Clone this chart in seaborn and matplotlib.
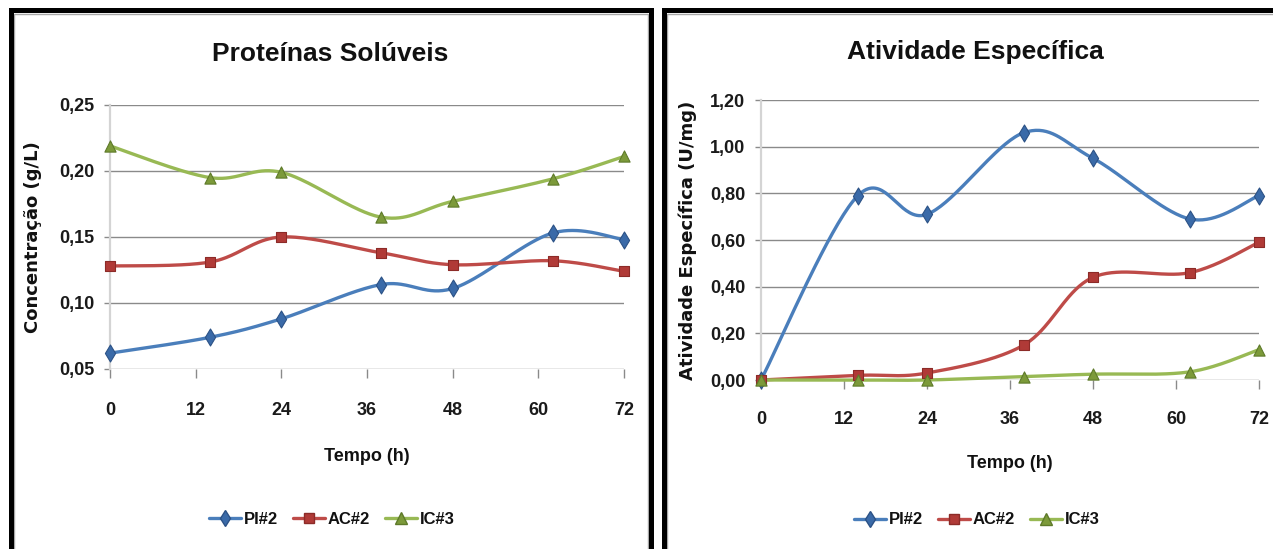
import numpy as np
import matplotlib
matplotlib.use("Agg")
import matplotlib.pyplot as plt
import seaborn as sns
from matplotlib.lines import Line2D
from matplotlib.patches import Rectangle
from matplotlib import font_manager as fm

# ---------------- data ----------------
hours = [0, 14, 24, 38, 48, 62, 72]
series_names = ["PI#2", "AC#2", "IC#3"]

prot_pi = [0.062, 0.074, 0.088, 0.114, 0.111, 0.153, 0.148]
prot_ac = [0.128, 0.131, 0.150, 0.138, 0.129, 0.132, 0.124]
prot_ic = [0.219, 0.195, 0.199, 0.165, 0.177, 0.194, 0.211]

act_pi = [0.00, 0.79, 0.71, 1.06, 0.95, 0.69, 0.79]
act_ac = [0.00, 0.02, 0.03, 0.15, 0.44, 0.46, 0.59]
act_ic = [0.00, 0.00, 0.00, 0.015, 0.025, 0.035, 0.13]

x_ticks = [0, 12, 24, 36, 48, 60, 72]
prot_yticks = [0.05, 0.10, 0.15, 0.20, 0.25]
act_yticks = [0.00, 0.20, 0.40, 0.60, 0.80, 1.00, 1.20]

titles = ["Proteínas Solúveis", "Atividade Específica"]
ylabels = ["Concentração (g/L)", "Atividade Específica (U/mg)"]
xlabel = "Tempo (h)"

# ---------------- style ----------------
sns.set_theme(style="white")
available = {f.name for f in fm.fontManager.ttflist}
narrow = "Liberation Sans Narrow" if "Liberation Sans Narrow" in available else "Liberation Sans"
plt.rcParams["font.family"] = [narrow, "DejaVu Sans"]

line_colors = ["#4A7EBB", "#BE4B48", "#98B954"]
marker_colors = ["#3A6AA8", "#B03A37", "#7C9A3A"]
marker_edges = ["#2C5286", "#8C2B28", "#5E7A2A"]
markers = ["d", "s", "^"]
msizes = [75, 55, 65]

W, H = 1273, 549
fig = plt.figure(figsize=(W / 100, H / 100), dpi=100)
fig.patch.set_facecolor("white")


def px_rect(x0, y0, x1, y1):
    return [x0 / W, 1 - y1 / H, (x1 - x0) / W, (y1 - y0) / H]


def smooth(x, y, n=40):
    """Excel-like smoothed line (Catmull-Rom Bezier) through the data points."""
    pts = np.column_stack([x, y]).astype(float)
    P = np.vstack([pts[0], pts, pts[-1]])
    out = []
    t = np.linspace(0, 1, n)[:, None]
    for i in range(1, len(P) - 2):
        p0, p1, p2, p3 = P[i - 1], P[i], P[i + 1], P[i + 2]
        c1 = p1 + (p2 - p0) / 6
        c2 = p2 - (p3 - p1) / 6
        b = (1 - t) ** 3 * p1 + 3 * (1 - t) ** 2 * t * c1 + 3 * (1 - t) * t ** 2 * c2 + t ** 3 * p2
        out.append(b if i == 1 else b[1:])
    return np.vstack(out)


def panel(ax, data, yticks, fmt, ylabel, xpad, ylab_x, xlab_y):
    for vals, lc, mc, me, mk, ms in zip(data, line_colors, marker_colors, marker_edges, markers, msizes):
        curve = smooth(hours, vals)
        sns.lineplot(x=curve[:, 0], y=curve[:, 1], sort=False, estimator=None,
                     color=lc, lw=2.4, ax=ax, zorder=3)
        ax.lines[-1].set_clip_on(False)
        sns.scatterplot(x=hours, y=vals, marker=mk, s=ms, color=mc, edgecolor=me,
                        linewidth=0.8, ax=ax, zorder=5)
        ax.collections[-1].set_clip_on(False)
    ax.set_xlim(0, 72)
    ax.set_ylim(yticks[0], yticks[-1])
    ax.set_xticks(x_ticks)
    ax.set_xticklabels([str(v) for v in x_ticks])
    ax.set_yticks(yticks)
    ax.set_yticklabels([fmt(v).replace(".", ",") for v in yticks])
    ax.yaxis.grid(True, color="#8a8a8a", lw=1.0)
    ax.xaxis.grid(False)
    for s in ["top", "right", "bottom"]:
        ax.spines[s].set_visible(False)
    ax.spines["left"].set_color("#d4d4d4")
    ax.spines["left"].set_linewidth(1.6)
    ax.tick_params(axis="x", direction="out", length=6.5, width=1, color="#8a8a8a",
                   pad=xpad, labelsize=13, bottom=True)
    ax.tick_params(axis="y", direction="out", length=4.3, width=1, color="#8a8a8a",
                   pad=7, labelsize=13, left=True)
    for lab in ax.get_xticklabels() + ax.get_yticklabels():
        lab.set_fontweight("bold")
        lab.set_color("#1a1a1a")
    ax.set_ylabel(ylabel, fontsize=13, fontweight="bold", family="DejaVu Sans", color="#111111")
    ax.yaxis.set_label_coords(ylab_x, 0.5)
    ax.set_xlabel(xlabel, fontsize=13, fontweight="bold", color="#111111", va="center")
    ax.xaxis.set_label_coords(0.5, xlab_y)
    ax.set_facecolor("white")


ax1 = fig.add_axes(px_rect(110, 105, 624, 369))
panel(ax1, [prot_pi, prot_ac, prot_ic], prot_yticks, lambda v: f"{v:.2f}",
      ylabels[0], 17, -0.132, -0.333)

ax2 = fig.add_axes(px_rect(761, 100, 1259, 380))
panel(ax2, [act_pi, act_ac, act_ic], act_yticks, lambda v: f"{v:.2f}",
      ylabels[1], 16, -0.1285, -0.30)

# titles
fig.text(330 / W, 1 - 54 / H, titles[0], ha="center", va="center", fontsize=19,
         fontweight="bold", color="#111111")
fig.text(975 / W, 1 - 52 / H, titles[1], ha="center", va="center", fontsize=19,
         fontweight="bold", color="#111111")

# legends
handles = [Line2D([0], [0], color=lc, lw=2.4, marker=mk, markersize=ms,
                  markerfacecolor=mc, markeredgecolor=me)
           for lc, mc, me, mk, ms in zip(line_colors, marker_colors, marker_edges,
                                         markers, [8.5, 7, 8])]
for cx, cy in [(332, 519), (977, 520)]:
    leg = fig.legend(handles, series_names, loc="center", ncol=3, frameon=False,
                     bbox_to_anchor=(cx / W, 1 - cy / H), fontsize=12,
                     handlelength=1.9, handletextpad=0.2, columnspacing=0.9)
    for t in leg.get_texts():
        t.set_fontweight("bold")
        t.set_color("#111111")

# panel borders (black frame with thin grey inner line)
for x0, x1 in [(11, 651), (664, 1290)]:
    fig.add_artist(Rectangle((x0 / W, -0.1), (x1 - x0) / W, 1 - 10 / H + 0.1,
                             transform=fig.transFigure, fill=False,
                             edgecolor="black", lw=3.6, zorder=10))
    fig.add_artist(Rectangle(((x0 + 3) / W, -0.1), (x1 - x0 - 6) / W, 1 - 13.5 / H + 0.1,
                             transform=fig.transFigure, fill=False,
                             edgecolor="#a8a8a8", lw=1.0, zorder=9))

fig.savefig("out.png", dpi=100, facecolor="white")
